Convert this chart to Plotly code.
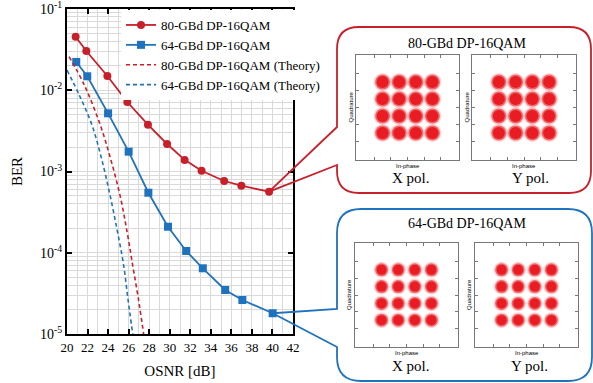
import math
import plotly.graph_objects as go

W, H = 593, 383
SERIF = "Liberation Serif"
RED = "#c8202b"
BLUE = "#1f72bd"
CRED = "#e81c22"

# ---- data ----
osnr_80 = [20.84, 21.88, 23.93, 25.87, 27.88, 29.74, 31.45, 33.1, 35.3, 36.97, 39.67]
ber_80 = [0.0456, 0.0304, 0.0150, 0.00716, 0.00377, 0.00218, 0.00139, 0.00102, 0.000764, 0.000668, 0.000564]
osnr_64 = [20.9, 21.97, 24.0, 26.0, 27.92, 29.83, 31.6, 33.22, 35.4, 37.07, 40.02]
ber_64 = [0.0223, 0.01486, 0.0052, 0.001754, 0.000548, 0.000209, 0.0001052, 6.44e-5, 3.48e-5, 2.62e-5, 1.80e-5]
osnr_80_th = [20.2, 21.7, 23.24, 24.3, 25.19, 25.85, 26.39, 26.95, 27.46]
ber_80_th = [0.026, 0.0115, 0.00373, 0.00135, 4.9e-4, 1.8e-4, 7.06e-5, 2.7e-5, 1.0e-5]
osnr_64_th = [20.0, 21.2, 22.43, 23.4, 24.22, 24.9, 25.51, 25.95, 26.4]
ber_64_th = [0.0177, 0.0087, 0.00373, 0.00138, 4.9e-4, 1.85e-4, 7.06e-5, 2.6e-5, 1.0e-5]
x_ticks = list(range(20, 43, 2))
y_tickvals = [1e-5, 1e-4, 1e-3, 1e-2, 1e-1]
y_ticktext = ["10<sup>-5</sup>", "10<sup>-4</sup>", "10<sup>-3</sup>", "10<sup>-2</sup>", "10<sup>-1</sup>"]
# ideal 16QAM symbol positions (I/Q levels)
qam_levels = [-3, -1, 1, 3]

# ---- layout geometry (pixels) ----
PL, PR, PT, PB = 67, 293, 9, 334
X0, X1 = 20, 42
YL0, YL1 = -5, -1


def fx(px):
    return px / W


def fy(py):
    return 1 - py / H


def x2px(x):
    return PL + (x - X0) / (X1 - X0) * (PR - PL)


def y2py(v):
    return PT + (YL1 - math.log10(v)) / (YL1 - YL0) * (PB - PT)


fig = go.Figure()

fig.add_trace(go.Scatter(x=osnr_80, y=ber_80, mode="lines+markers", name="80-GBd DP-16QAM",
                         line=dict(color=RED, width=1.8), marker=dict(symbol="circle", size=8, color=RED)))
fig.add_trace(go.Scatter(x=osnr_64, y=ber_64, mode="lines+markers", name="64-GBd DP-16QAM",
                         line=dict(color=BLUE, width=1.8), marker=dict(symbol="square", size=8, color=BLUE)))
fig.add_trace(go.Scatter(x=osnr_80_th, y=ber_80_th, mode="lines", name="80-GBd DP-16QAM (Theory)",
                         line=dict(color=RED, width=1.6, dash="4px,3px", shape="spline")))
fig.add_trace(go.Scatter(x=osnr_64_th, y=ber_64_th, mode="lines", name="64-GBd DP-16QAM (Theory)",
                         line=dict(color=BLUE, width=1.6, dash="4px,3px", shape="spline")))

minor_x = [v for v in range(21, 42, 2)]
minor_y = [m * 10 ** e for e in range(-5, -1) for m in range(2, 10)]

fig.update_layout(
    width=W, height=H, margin=dict(l=0, r=0, t=0, b=0),
    paper_bgcolor="white", plot_bgcolor="white",
    font=dict(family=SERIF, color="black"),
    showlegend=True,
    legend=dict(x=fx(121), y=fy(10), xanchor="left", yanchor="top",
                bgcolor="white", borderwidth=0, font=dict(size=13, family=SERIF),
                tracegroupgap=0, itemwidth=30),
    xaxis=dict(domain=[fx(PL), fx(PR)], range=[X0, X1], tickvals=x_ticks,
               ticks="inside", ticklen=5, tickwidth=1.5, tickcolor="black",
               showline=True, linecolor="black", linewidth=2, mirror="ticks",
               showgrid=True, gridcolor="#d9d9d9", gridwidth=1, zeroline=False,
               minor=dict(tickvals=minor_x, showgrid=True, gridcolor="#d9d9d9", ticks=""),
               tickfont=dict(size=13, family=SERIF), automargin=False, ticklabeloverflow="allow",
               title=dict(text="OSNR [dB]", font=dict(size=15, family=SERIF), standoff=12)),
    yaxis=dict(domain=[fy(PB), fy(PT)], type="log", range=[YL0, YL1],
               tickvals=y_tickvals, ticktext=y_ticktext,
               ticks="inside", ticklen=5, tickwidth=1.5, tickcolor="black",
               showline=True, linecolor="black", linewidth=2, mirror="ticks",
               showgrid=True, gridcolor="#d9d9d9", gridwidth=1, zeroline=False,
               minor=dict(tickvals=minor_y, showgrid=True, gridcolor="#d9d9d9", ticks=""),
               tickfont=dict(size=14, family=SERIF), automargin=False, ticklabeloverflow="allow",
               title=dict(text="BER", font=dict(size=15, family=SERIF), standoff=14)),
)

# ---- constellation insets ----
insets = [
    # (axis id, pixel box l r t b, inner size, outer size)
    (2, (356, 459, 55, 160), 12, 15),
    (3, (472, 576, 55, 160), 12, 15),
    (4, (355, 458, 243, 347), 10, 13),
    (5, (475, 578, 243, 347), 10, 13),
]
R = 6.2
ci = [i for i in qam_levels for q in qam_levels]
cq = [q for i in qam_levels for q in qam_levels]
annots = []
for k, (l, r, t, b), s_in, s_out in insets:
    xa, ya = "x%d" % k, "y%d" % k
    fig.add_trace(go.Scatter(x=ci, y=cq, mode="markers", xaxis=xa, yaxis=ya, showlegend=False,
                             marker=dict(size=s_out + 3, color="rgba(232,28,34,0.18)", line=dict(width=0))))
    fig.add_trace(go.Scatter(x=ci, y=cq, mode="markers", xaxis=xa, yaxis=ya, showlegend=False,
                             marker=dict(size=s_out, color="rgba(232,28,34,0.6)", line=dict(width=0))))
    fig.add_trace(go.Scatter(x=ci, y=cq, mode="markers", xaxis=xa, yaxis=ya, showlegend=False,
                             marker=dict(size=s_in, color=CRED, line=dict(width=0))))
    ax_common = dict(range=[-R, R], showgrid=False, zeroline=False, showticklabels=False,
                     ticks="inside", ticklen=3, tickcolor="#777", tickvals=[-4, -2, 0, 2, 4],
                     showline=True, linecolor="#777", linewidth=1, mirror="ticks", automargin=False)
    fig.update_layout(**{
        "xaxis%d" % k: dict(domain=[fx(l), fx(r)], anchor=ya, **ax_common),
        "yaxis%d" % k: dict(domain=[fy(b), fy(t)], anchor=xa, **ax_common),
    })
    annots.append(dict(x=fx((l + r) / 2), y=fy(b + 6), text="In-phase", xref="paper", yref="paper",
                       showarrow=False, font=dict(size=6, family="Liberation Sans"), xanchor="center", yanchor="middle"))
    annots.append(dict(x=fx(l - 6), y=fy((t + b) / 2), text="Quadrature", xref="paper", yref="paper",
                       showarrow=False, textangle=-90, font=dict(size=6, family="Liberation Sans"),
                       xanchor="center", yanchor="middle"))

texts = [
    ("80-GBd DP-16QAM", 467, 43, 14),
    ("X pol.", 411, 178, 15),
    ("Y pol.", 530, 178, 15),
    ("64-GBd DP-16QAM", 467, 223, 14),
    ("X pol.", 411, 366, 15),
    ("Y pol.", 529, 366, 15),
]
for t, x, y, s in texts:
    annots.append(dict(x=fx(x), y=fy(y), text=t, xref="paper", yref="paper", showarrow=False,
                       font=dict(size=s, family=SERIF), xanchor="center", yanchor="middle"))
fig.update_layout(annotations=annots)


def callout_path(l, t, r, b, gap_top, gap_bot, rad, tip):
    def P(px, py):
        return "%.5f,%.5f" % (fx(px), fy(py))
    return ("M " + P(l, gap_top) + " L " + P(l, t + rad) + " Q " + P(l, t) + " " + P(l + rad, t) +
            " L " + P(r - rad, t) + " Q " + P(r, t) + " " + P(r, t + rad) +
            " L " + P(r, b - rad) + " Q " + P(r, b) + " " + P(r - rad, b) +
            " L " + P(l + rad, b) + " Q " + P(l, b) + " " + P(l, b - rad) +
            " L " + P(l, gap_bot) + " L " + P(*tip) + " Z")


tip80 = (x2px(osnr_80[-1]), y2py(ber_80[-1]))
tip64 = (x2px(osnr_64[-1]), y2py(ber_64[-1]))
fig.update_layout(shapes=[
    dict(type="path", xref="paper", yref="paper", layer="above",
         path=callout_path(337, 27, 591, 193, 127, 165, 22, tip80),
         line=dict(color=RED, width=1.8)),
    dict(type="path", xref="paper", yref="paper", layer="above",
         path=callout_path(337, 209, 592, 381, 309, 347, 24, tip64),
         line=dict(color=BLUE, width=1.8)),
])

fig.write_html("out.html", config={"displayModeBar": False},
               post_script="document.body.style.margin='0';document.body.style.overflow='hidden';")
